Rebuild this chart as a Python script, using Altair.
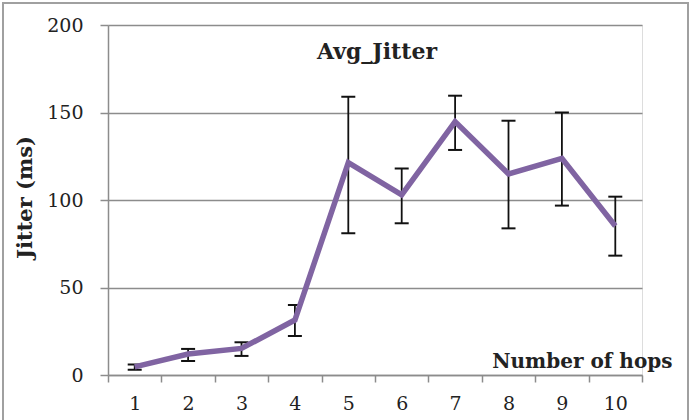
import altair as alt
import pandas as pd

hops = [1, 2, 3, 4, 5, 6, 7, 8, 9, 10]
jitter = [4.6, 12.0, 15.2, 31.4, 121.3, 102.9, 144.8, 114.9, 123.8, 85.1]
err_low = [3.0, 8.0, 10.9, 22.3, 81.0, 86.7, 128.6, 83.8, 96.8, 68.2]
err_high = [6.0, 14.9, 18.7, 40.0, 159.0, 118.0, 159.6, 145.3, 150.0, 101.9]
y_ticks = [0, 50, 100, 150, 200]

df = pd.DataFrame({"hops": hops, "jitter": jitter, "lo": err_low, "hi": err_high})

FONT = "DejaVu Serif"
GRID = "#8c8c8c"

x_enc = alt.X(
    "hops:O",
    scale=alt.Scale(type="band", paddingInner=0, paddingOuter=0),
    axis=alt.Axis(
        labelAngle=0,
        tickBand="extent",
        grid=False,
        tickSize=7,
        tickColor=GRID,
        tickWidth=1.5,
        domainColor=GRID,
        domainWidth=1.5,
        labelFont=FONT,
        labelFontSize=19,
        labelColor="#222",
        labelPadding=12,
        title="Number of hops",
        titleFont=FONT,
        titleFontSize=20,
        titleFontWeight="bold",
        titleColor="#222",
        titleAlign="right",
        titleBaseline="alphabetic",
        titleX=564,
        titleY=-8,
    ),
)

y_scale = alt.Scale(domain=[0, 200], nice=False)
y_axis = alt.Axis(
    values=y_ticks,
    grid=True,
    gridColor=GRID,
    gridWidth=1.5,
    tickSize=8,
    tickColor=GRID,
    tickWidth=1.5,
    domainColor=GRID,
    domainWidth=1.5,
    labelFont=FONT,
    labelFontSize=19,
    labelColor="#222",
    labelPadding=17,
    title="Jitter (ms)",
    titleFont=FONT,
    titleFontSize=21,
    titleFontWeight="bold",
    titleColor="#222",
    titleAngle=-90,
    titleX=-83,
    titleY=172,
    titleAlign="center",
    titleBaseline="middle",
)

base = alt.Chart(df)

border = base.mark_rect(fill=None, stroke="#a0a0a0", strokeWidth=2, clip=False).encode(
    x=alt.value(-105), x2=alt.value(580), y=alt.value(-22), y2=alt.value(420)
).transform_filter("datum.hops == 1")

rules = base.mark_rule(color="#111", strokeWidth=1.8).encode(
    x=x_enc,
    y=alt.Y("lo:Q", scale=y_scale, axis=y_axis),
    y2="hi:Q",
)
cap_lo = base.mark_point(color="#111", shape="M-1,0L1,0", size=196, strokeWidth=2,
                         filled=False, opacity=1).encode(x="hops:O", y="lo:Q")
cap_hi = base.mark_point(color="#111", shape="M-1,0L1,0", size=196, strokeWidth=2,
                         filled=False, opacity=1).encode(x="hops:O", y="hi:Q")
line = base.mark_line(color="#8064A2", strokeWidth=5.5).encode(
    x="hops:O", y="jitter:Q"
)

chart = alt.layer(border, rules, cap_lo, cap_hi, line).properties(
    width=534,
    height=350,
    autosize=alt.AutoSizeParams(type="none"),
    padding={"left": 108, "top": 25, "right": 50, "bottom": 45},
    title=alt.TitleParams(
        "Avg_Jitter",
        font=FONT,
        fontSize=22,
        fontWeight="bold",
        color="#222",
        anchor="middle",
        frame="group",
        baseline="alphabetic",
        offset=-38,
        dx=2,
        dy=41,
    ),
).configure_view(stroke=None).configure(background="white")

chart.save("out.html", embed_options={"renderer": "svg", "actions": False})
